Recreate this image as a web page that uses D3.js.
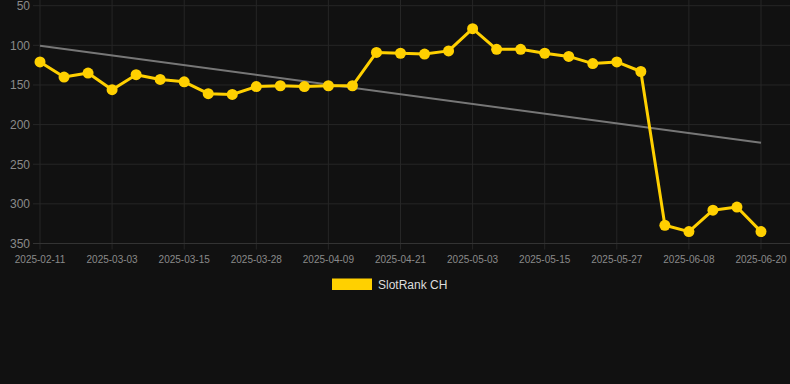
<!DOCTYPE html>
<html><head><meta charset="utf-8">
<script src="https://cdn.jsdelivr.net/npm/d3@7"></script>
<style>html,body{margin:0;padding:0;background:#111111;}svg{display:block;}</style>
</head><body>
<svg id="chart" width="790" height="384"></svg>
<script>
const dates = ["2025-02-11","2025-02-18","2025-02-25","2025-03-03","2025-03-07","2025-03-11","2025-03-15","2025-03-19","2025-03-24","2025-03-28","2025-04-01","2025-04-05","2025-04-09","2025-04-13","2025-04-17","2025-04-21","2025-04-25","2025-04-29","2025-05-03","2025-05-07","2025-05-11","2025-05-15","2025-05-19","2025-05-23","2025-05-27","2025-05-31","2025-06-04","2025-06-08","2025-06-12","2025-06-16","2025-06-20"];
const rankCH = [121,140,135,156,137,143,146,161,162,152,151,152,151,151,109,110,111,107,79,105,105,110,114,123,121,133,327,335,308,304,335];
const trendValues = [100.5, 222.8];
const yTicks = [50,100,150,200,250,300,350];
const seriesName = "SlotRank CH";

(function(){
const svg = d3.select("#chart");
const W = 790;
const mLeft = 40, mRight = 761, mTop = 5.7, mBottom = 243.5;

const x = d3.scalePoint().domain(dates).range([mLeft, mRight]);
const y = d3.scaleLinear().domain([50, 350]).range([mTop, mBottom]);

const tickDates = dates.filter((d,i)=> i % 3 === 0);

const g = svg.append("g");
g.selectAll("line.h").data(yTicks).enter().append("line")
  .attr("x1", 33).attr("x2", W).attr("y1", d=>y(d)).attr("y2", d=>y(d))
  .attr("stroke", "#262626").attr("stroke-width", 1);
g.selectAll("line.v").data(tickDates).enter().append("line")
  .attr("x1", d=>x(d)).attr("x2", d=>x(d)).attr("y1", 0).attr("y2", mBottom + 6)
  .attr("stroke", "#262626").attr("stroke-width", 1);
g.append("line").attr("x1", 33).attr("x2", W).attr("y1", y(350)).attr("y2", y(350))
  .attr("stroke", "#333").attr("stroke-width", 1);

svg.append("g").selectAll("text").data(yTicks).enter().append("text")
  .attr("x", 30).attr("y", d=>y(d)).attr("dy", "0.36em")
  .attr("text-anchor", "end").attr("fill", "#8a8a8a")
  .style("font-family", "Arial, 'Liberation Sans', sans-serif").style("font-size", "12px")
  .text(d=>d);

svg.append("g").selectAll("text").data(tickDates).enter().append("text")
  .attr("x", d=>x(d)).attr("y", 263)
  .attr("text-anchor", "middle").attr("fill", "#8a8a8a")
  .style("font-family", "Arial, 'Liberation Sans', sans-serif").style("font-size", "10px")
  .text(d=>d);

svg.append("line")
  .attr("x1", x(dates[0])).attr("y1", y(trendValues[0]))
  .attr("x2", x(dates[dates.length-1])).attr("y2", y(trendValues[1]))
  .attr("stroke", "#777").attr("stroke-width", 2);

const data = dates.map((d,i)=>({d, v: rankCH[i]}));
svg.append("path").datum(data)
  .attr("fill", "none").attr("stroke", "#FFD000").attr("stroke-width", 3)
  .attr("stroke-linejoin", "round")
  .attr("d", d3.line().x(p=>x(p.d)).y(p=>y(p.v)));
svg.append("g").selectAll("circle").data(data).enter().append("circle")
  .attr("cx", p=>x(p.d)).attr("cy", p=>y(p.v)).attr("r", 5.5)
  .attr("fill", "#FFD000");

svg.append("rect").attr("x", 332).attr("y", 278.5).attr("width", 40).attr("height", 11.5).attr("fill", "#FFD000");
svg.append("text").attr("x", 378).attr("y", 284.5).attr("dy", "0.36em")
  .attr("fill", "#dddddd").style("font-family", "Arial, 'Liberation Sans', sans-serif").style("font-size", "12px")
  .text(seriesName);
})();
</script>
</body></html>
